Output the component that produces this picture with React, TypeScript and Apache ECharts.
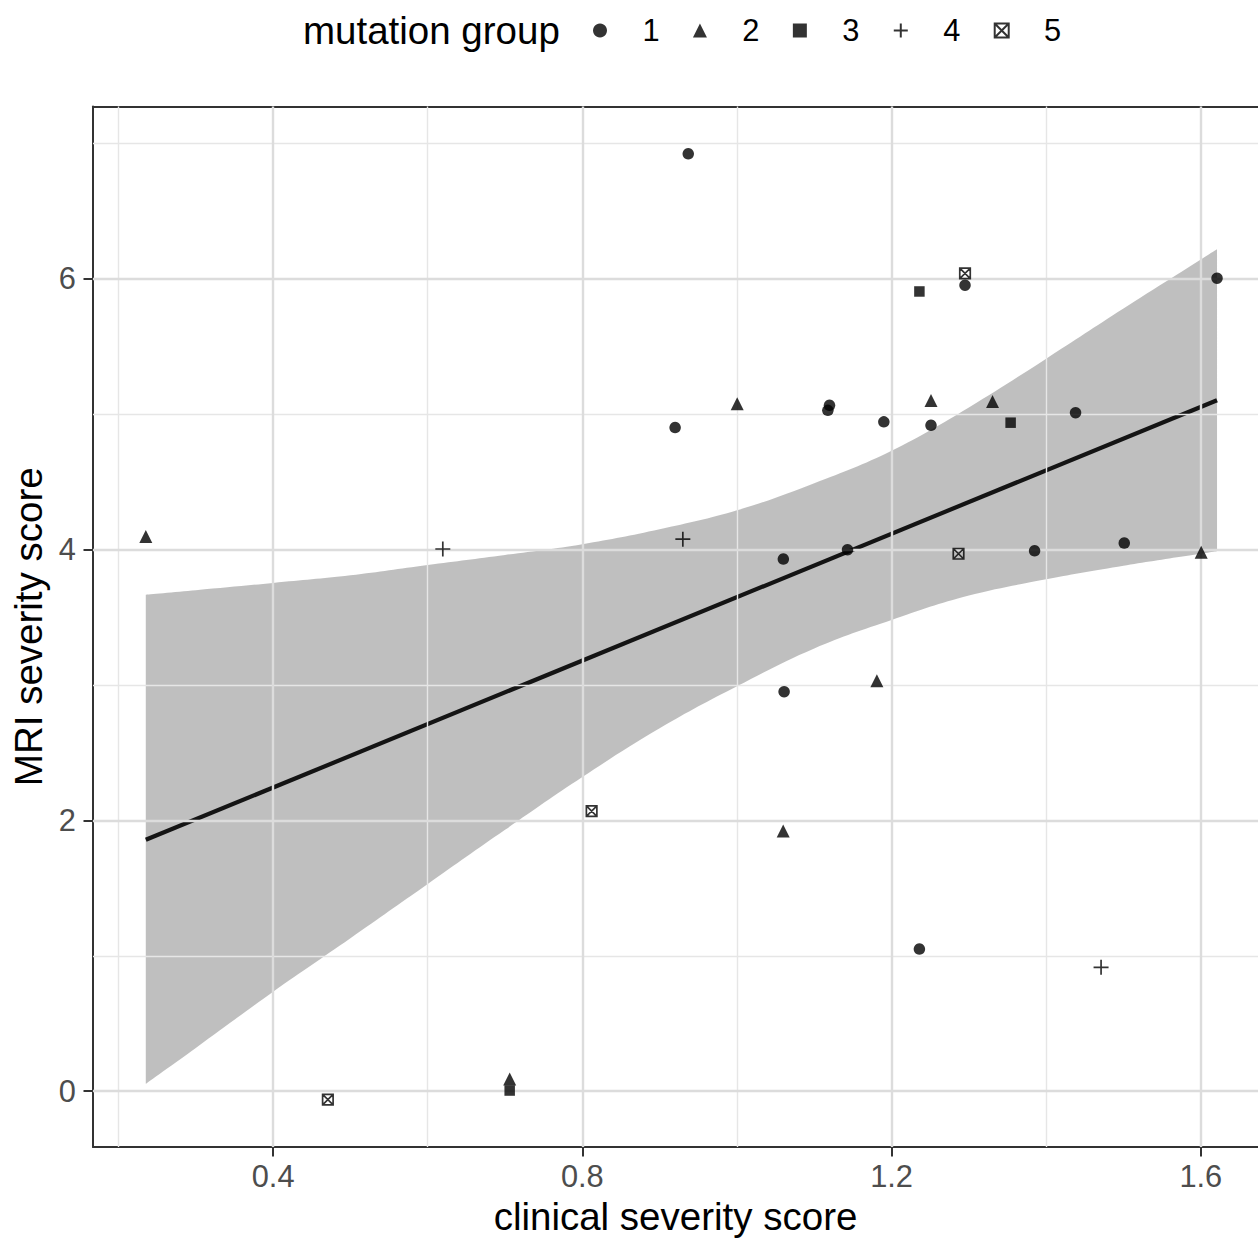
import React, { useEffect, useRef } from "react";
import * as echarts from "echarts";

const FONT = "'Liberation Sans', Arial, Helvetica, sans-serif";

// mutation groups
const groupNames = ["1", "2", "3", "4", "5"];

// [clinical severity score, MRI severity score]
const group1: [number, number][] = [
  [0.937, 6.923],
  [1.295, 5.952],
  [1.621, 6.004],
  [0.92, 4.901],
  [1.1197, 5.065],
  [1.1176, 5.028],
  [1.19, 4.943],
  [1.251, 4.918],
  [1.438, 5.011],
  [1.06, 3.93],
  [1.143, 3.999],
  [1.385, 3.991],
  [1.501, 4.048],
  [1.061, 2.95],
  [1.236, 1.05],
];
const group2: [number, number][] = [
  [0.2353, 4.097],
  [1.0003, 5.077],
  [1.251, 5.101],
  [1.3306, 5.094],
  [1.6005, 3.981],
  [1.181, 3.031],
  [1.0598, 1.921],
  [0.706, 0.09],
];
const group3: [number, number][] = [
  [0.706, 0.005],
  [1.236, 5.906],
  [1.354, 4.937],
];
const group4: [number, number][] = [
  [0.6195, 4.004],
  [0.93, 4.077],
  [1.471, 0.915],
];
const group5: [number, number][] = [
  [0.4708, -0.0625],
  [0.812, 2.068],
  [1.295, 6.04],
  [1.2866, 3.969],
];

// linear fit line (read at the ends of the data range)
const fitX = [0.2353, 1.621];
const fitY = [1.857, 5.103];

// confidence band edges
const bandX = [0.2353, 0.3, 0.4, 0.5, 0.6, 0.7, 0.8, 0.9, 1.0, 1.1, 1.2, 1.3, 1.4, 1.5, 1.621];
const bandUpper = [3.667, 3.7, 3.754, 3.81, 3.886, 3.96, 4.04, 4.15, 4.29, 4.49, 4.73, 5.05, 5.41, 5.78, 6.217];
const bandLower = [0.055, 0.32, 0.735, 1.13, 1.53, 1.93, 2.32, 2.68, 2.99, 3.27, 3.48, 3.66, 3.78, 3.88, 3.987];

// axis ticks
const xTicks = [0.4, 0.8, 1.2, 1.6];
const xMinorTicks = [0.2, 0.6, 1.0, 1.4];
const yTicks = [0, 2, 4, 6];
const yMinorTicks = [1, 3, 5, 7];
const xRange = [0.167, 1.674];
const yRange = [-0.412, 7.272];

const PLUS = "path://M0,5L10,5M5,0L5,10";
const BOXX = "path://M0,0L10,0L10,10L0,10Z M0,0L10,10 M10,0L0,10";

export default function App() {
  const ref = useRef<HTMLDivElement>(null);
  useEffect(() => {
    document.body.style.margin = "0";
    if (!ref.current) return;
    const chart = echarts.init(ref.current, undefined, { renderer: "svg" });

    const major = { color: "#dcdcdc", width: 2.4, type: "solid" };
    const minor = { color: "#e6e6e6", width: 1.4, type: "solid" };

    const markData: any[] = [
      ...xMinorTicks.map((v) => ({ xAxis: v, lineStyle: minor })),
      ...yMinorTicks.map((v) => ({ yAxis: v, lineStyle: minor })),
      ...xTicks.map((v) => ({ xAxis: v, lineStyle: major })),
      ...yTicks.map((v) => ({ yAxis: v, lineStyle: major })),
    ];

    const scatterBase = {
      type: "scatter",
      z: 5,
      silent: true,
      symbolKeepAspect: true,
    };

    const axisLineStyle = { color: "#333", width: 2 };

    chart.setOption({
      animation: false,
      backgroundColor: "#ffffff",
      textStyle: { fontFamily: FONT },
      graphic: [
        {
          type: "text",
          x: 303,
          y: 30,
          style: {
            text: "mutation group",
            fontSize: 38.5,
            fontFamily: FONT,
            fill: "#000",
            verticalAlign: "middle",
            align: "left",
          },
        },
      ],
      legend: {
        data: groupNames,
        left: 593,
        top: 15,
        padding: 0,
        itemWidth: 14,
        itemHeight: 14,
        itemGap: 33.4,
        selectedMode: false,
        textStyle: {
          fontSize: 30.8,
          color: "#000",
          fontFamily: FONT,
          padding: [0, 0, 0, 30.4],
        },
      },
      grid: {
        left: 93,
        top: 106.5,
        right: 0,
        height: 1045,
        show: false,
      },
      xAxis: [
        {
          type: "value",
          min: xRange[0],
          max: xRange[1],
          name: "clinical severity score",
          nameLocation: "middle",
          nameGap: 50,
          nameTextStyle: { fontSize: 38.5, color: "#000", fontFamily: FONT },
          axisLine: { show: true, onZero: false, lineStyle: axisLineStyle },
          axisTick: { show: true, length: 9.5, customValues: xTicks, lineStyle: axisLineStyle },
          axisLabel: { customValues: xTicks, fontSize: 30.8, color: "#4d4d4d", margin: 14, fontFamily: FONT },
          splitLine: { show: false },
        },
        {
          type: "value",
          position: "top",
          min: xRange[0],
          max: xRange[1],
          axisLine: { show: true, onZero: false, lineStyle: axisLineStyle },
          axisTick: { show: false },
          axisLabel: { show: false },
          splitLine: { show: false },
        },
      ],
      yAxis: {
        type: "value",
        min: yRange[0],
        max: yRange[1],
        name: "MRI severity score",
        nameLocation: "middle",
        nameGap: 42,
        nameTextStyle: { fontSize: 38.5, color: "#000", fontFamily: FONT },
        axisLine: { show: true, onZero: false, lineStyle: axisLineStyle },
        axisTick: { show: true, length: 9.5, customValues: yTicks, lineStyle: axisLineStyle },
        axisLabel: { customValues: yTicks, fontSize: 30.8, color: "#4d4d4d", margin: 17, fontFamily: FONT },
        splitLine: { show: false },
      },
      series: [
        {
          name: "bandLower",
          type: "line",
          stack: "ci",
          smooth: 0.4,
          symbol: "none",
          silent: true,
          z: 1,
          encode: { x: 1, y: 0 },
          lineStyle: { opacity: 0 },
          data: bandX.map((x, i) => [bandLower[i], x]),
          markLine: {
            silent: true,
            symbol: ["none", "none"],
            label: { show: false },
            emphasis: { disabled: true },
            data: markData,
          },
        },
        {
          name: "bandUpper",
          type: "line",
          stack: "ci",
          smooth: 0.4,
          symbol: "none",
          silent: true,
          z: 2,
          encode: { x: 1, y: 0 },
          lineStyle: { opacity: 0 },
          areaStyle: { color: "rgba(95,95,95,0.4)", opacity: 1 },
          data: bandX.map((x, i) => [bandUpper[i] - bandLower[i], x]),
        },
        {
          name: "fit",
          type: "line",
          symbol: "none",
          silent: true,
          z: 3,
          lineStyle: { color: "#141414", width: 4.2 },
          data: fitX.map((x, i) => [x, fitY[i]]),
        },
        {
          ...scatterBase,
          name: "1",
          symbol: "circle",
          symbolSize: 11.5,
          itemStyle: { color: "#000" },
          data: group1,
        },
        {
          ...scatterBase,
          name: "2",
          symbol: "triangle",
          symbolSize: 13,
          itemStyle: { color: "#000" },
          data: group2,
        },
        {
          ...scatterBase,
          name: "3",
          symbol: "rect",
          symbolSize: 10.5,
          itemStyle: { color: "#000" },
          data: group3,
        },
        {
          ...scatterBase,
          name: "4",
          symbol: PLUS,
          symbolSize: 15,
          itemStyle: { color: "rgba(0,0,0,0)", borderColor: "#000", borderWidth: 1.7 },
          data: group4,
        },
        {
          ...scatterBase,
          name: "5",
          symbol: BOXX,
          symbolSize: 10.5,
          itemStyle: { color: "rgba(0,0,0,0)", borderColor: "#000", borderWidth: 1.7 },
          data: group5,
        },
      ],
    });
    return () => chart.dispose();
  }, []);
  return <div ref={ref} style={{ width: 1258, height: 1241 }} />;
}
